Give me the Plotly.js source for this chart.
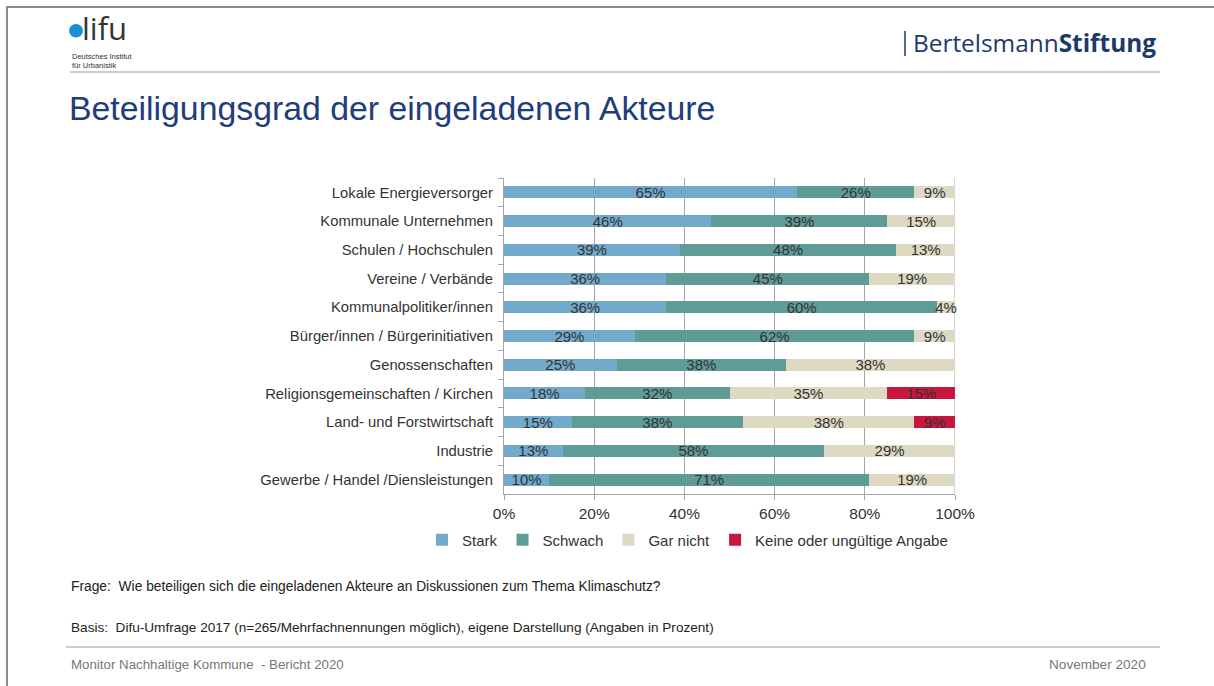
<!DOCTYPE html>
<html>
<head>
<meta charset="utf-8">
<script src="https://cdn.plot.ly/plotly-3.0.1.min.js"></script>
<style>html,body{margin:0;padding:0;background:#fff;}#chart{width:1214px;height:686px;}</style>
</head>
<body>
<div id="chart"></div>
<script>
const categories = [
  "Lokale Energieversorger",
  "Kommunale Unternehmen",
  "Schulen / Hochschulen",
  "Vereine / Verbände",
  "Kommunalpolitiker/innen",
  "Bürger/innen / Bürgerinitiativen",
  "Genossenschaften",
  "Religionsgemeinschaften / Kirchen",
  "Land- und Forstwirtschaft",
  "Industrie",
  "Gewerbe / Handel /Diensleistungen"
];
const seriesNames = ["Stark", "Schwach", "Gar nicht", "Keine oder ungültige Angabe"];
const stark    = [65, 46, 39, 36, 36, 29, 25, 18, 15, 13, 10];
const schwach  = [26, 39, 48, 45, 60, 62, 37.5, 32, 38, 58, 71];
const garNicht = [9, 15, 13, 19, 4, 9, 37.5, 35, 38, 29, 19];
const keine    = [null, null, null, null, null, null, null, 15, 9, null, null];
const xTicks = [0, 20, 40, 60, 80, 100];

const colors = ["#72aacb", "#5f9c97", "#ddd9c3", "#c7173f"];
const series = [stark, schwach, garNicht, keine];

const FONT = "Liberation Sans, Arial, sans-serif";
const traces = series.map((vals, i) => ({
  type: "bar",
  orientation: "h",
  name: seriesNames[i],
  y: categories,
  x: vals,
  marker: {color: colors[i], line: {width: 0}},
  texttemplate: "%{x:.0f}%",
  textposition: "inside",
  insidetextanchor: "middle",
  textangle: 0,
  constraintext: "none",
  textfont: {family: FONT, size: 15, color: "#333333"},
  hoverinfo: "skip",
  cliponaxis: false
}));

const L = 504, R = 955, T = 178, B = 494;
const px = x => (x - L) / (R - L);
const py = y => (B - y) / (B - T);

function ann(text, x, y, size, color, extra) {
  return Object.assign({
    text: text, xref: "paper", yref: "paper", x: px(x), y: py(y),
    xanchor: "left", yanchor: "middle", showarrow: false,
    font: {family: FONT, size: size, color: color}
  }, extra || {});
}

const annotations = [
  ann("Beteiligungsgrad der eingeladenen Akteure", 67, 108, 33.8, "#1f3d7a"),
  ann("lifu", 80, 28, 31, "#333333", {font: {family: "Open Sans, sans-serif", size: 31, color: "#333"}}),
  ann("Deutsches Institut", 70, 57, 7.5, "#333333"),
  ann("für Urbanistik", 70, 65, 7.5, "#333333"),
  ann("Bertelsmann<b>Stiftung</b>", 911, 43, 24.4, "#1d3a6c", {font: {family: "Open Sans, sans-serif", size: 24.4, color: "#1d3a6c"}}),
  ann("Frage:  Wie beteiligen sich die eingeladenen Akteure an Diskussionen zum Thema Klimaschutz?", 69, 586, 13.8, "#222222"),
  ann("Basis:  Difu-Umfrage 2017 (n=265/Mehrfachnennungen möglich), eigene Darstellung (Angaben in Prozent)", 69, 627, 13.6, "#222222"),
  ann("Monitor Nachhaltige Kommune  - Bericht 2020", 69, 664, 13.3, "#777777"),
  ann("November 2020", 1148, 664, 13.6, "#777777", {xanchor: "right"})
];

const shapes = [
  {type: "rect", xref: "paper", yref: "paper", x0: px(7), x1: px(1300), y0: py(7), y1: py(720), line: {color: "#8c8c8c", width: 2}},
  {type: "circle", xref: "paper", yref: "paper", x0: px(69), x1: px(83), y0: py(24), y1: py(37.5), fillcolor: "#1a8fd6", line: {width: 0}},
  {type: "line", xref: "paper", yref: "paper", x0: px(70), x1: px(1160), y0: py(72), y1: py(72), line: {color: "#9a9a9a", width: 1}},
  {type: "line", xref: "paper", yref: "paper", x0: px(905), x1: px(905), y0: py(31), y1: py(56), line: {color: "#1d3a6c", width: 1.5}},
  {type: "line", xref: "paper", yref: "paper", x0: px(66), x1: px(1160), y0: py(647), y1: py(647), line: {color: "#9a9a9a", width: 1}},
  {type: "line", xref: "x", yref: "paper", x0: 100, x1: 100, y0: 0, y1: 1, line: {color: "#a6a6a6", width: 1}, layer: "below"}
];

const layout = {
  width: 1214, height: 686,
  margin: {l: L, r: 1214 - R, t: T, b: 686 - B, pad: 0},
  paper_bgcolor: "#ffffff", plot_bgcolor: "#ffffff",
  barmode: "stack", bargap: 0.58,
  showlegend: true,
  legend: {orientation: "h", x: px(422), xanchor: "left", y: py(540), yanchor: "middle",
           font: {family: FONT, size: 15, color: "#333333"}, traceorder: "normal", itemwidth: 30},
  xaxis: {range: [0, 100], tickvals: xTicks, ticktext: xTicks.map(v => v + "%"),
          showgrid: true, gridcolor: "#a6a6a6", gridwidth: 1, zeroline: false,
          showline: true, linecolor: "#a6a6a6", ticks: "outside", ticklen: 5, tickcolor: "#a6a6a6",
          tickfont: {family: FONT, size: 15.5, color: "#333333"}, fixedrange: true},
  yaxis: {type: "category", autorange: "reversed", showgrid: false, zeroline: false,
          showline: true, linecolor: "#a6a6a6", ticks: "outside", ticklen: 5, tickcolor: "#a6a6a6",
          tickson: "boundaries", ticklabelstandoff: 7,
          tickfont: {family: FONT, size: 14.8, color: "#333333"}, fixedrange: true},
  annotations: annotations,
  shapes: shapes,
  font: {family: FONT}
};

Plotly.newPlot("chart", traces, layout, {displayModeBar: false, staticPlot: true});
</script>
</body>
</html>
